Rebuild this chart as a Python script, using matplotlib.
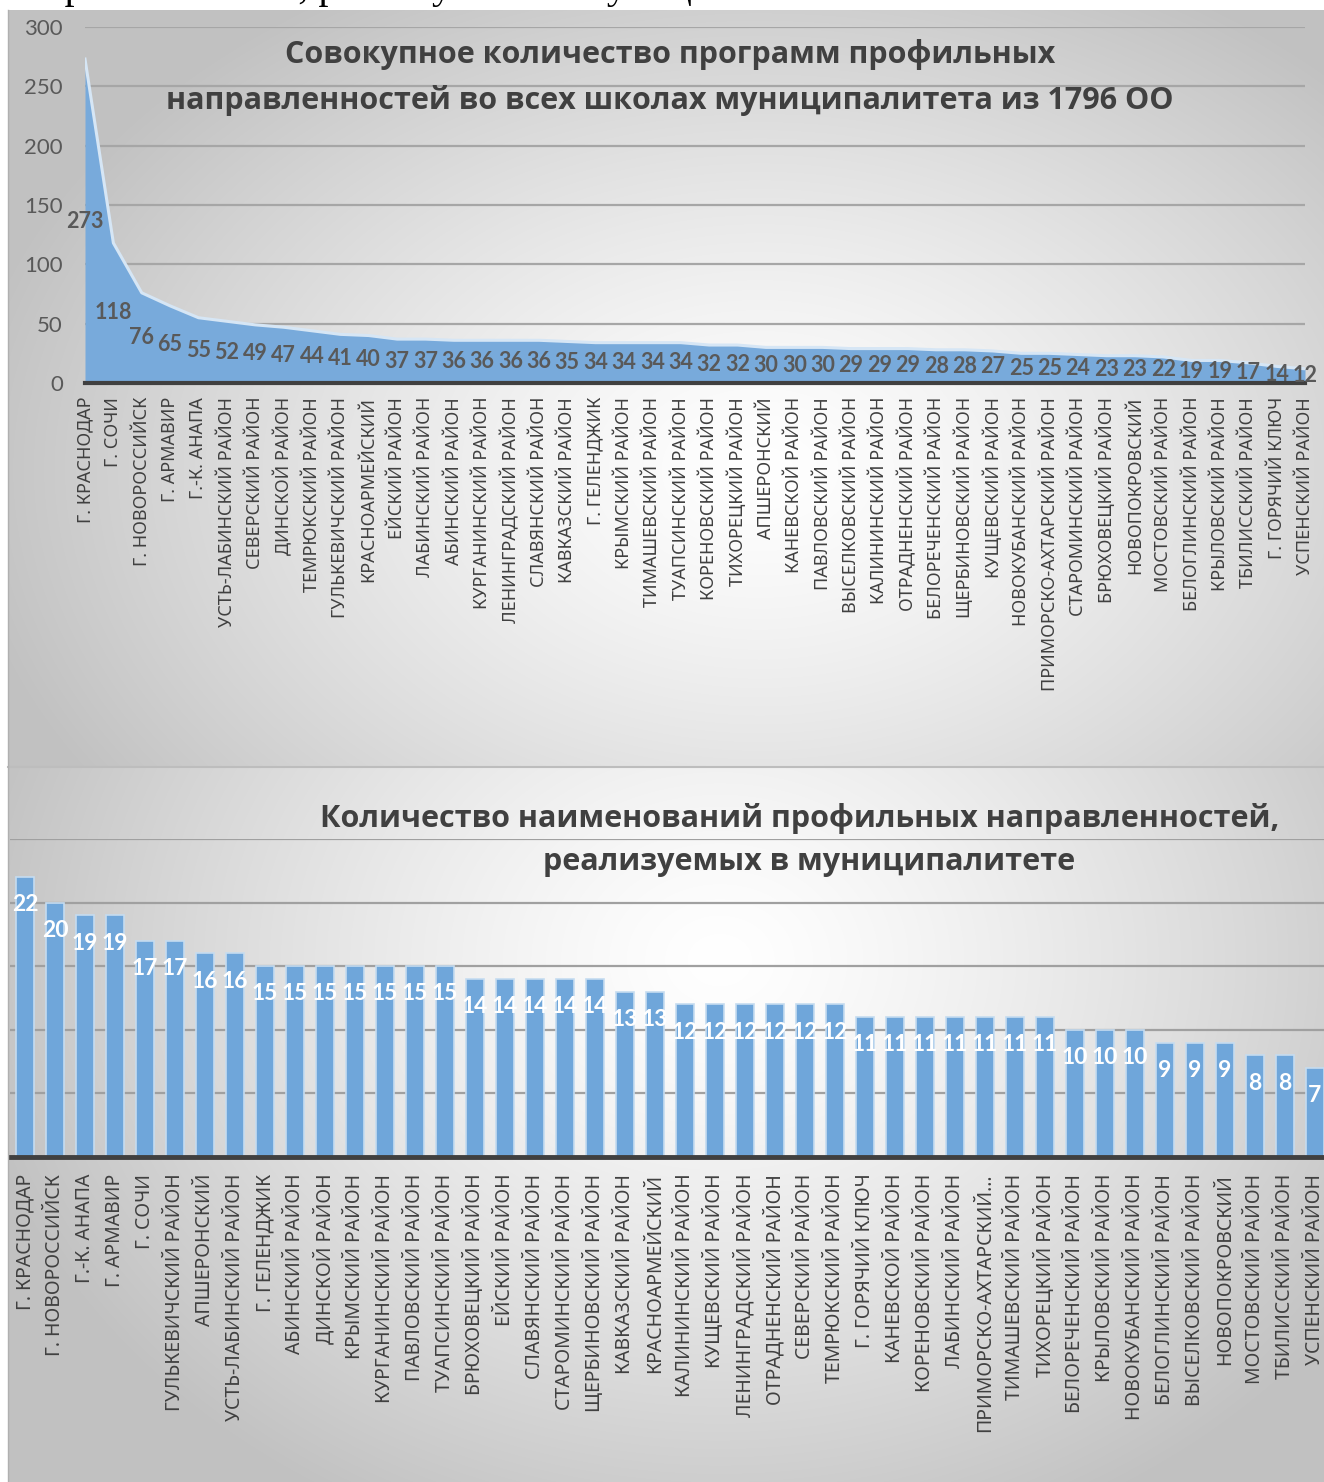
import numpy as np
import matplotlib
matplotlib.use("Agg")
import matplotlib.pyplot as plt

W, H = 1324, 1482
DPI = 100

# ---------------- data ----------------
top_title = "Совокупное количество программ профильных\nнаправленностей во всех школах муниципалитета из 1796 ОО"
top_categories = [
    "Г. КРАСНОДАР", "Г. СОЧИ", "Г. НОВОРОССИЙСК", "Г. АРМАВИР", "Г.-К. АНАПА",
    "УСТЬ-ЛАБИНСКИЙ РАЙОН", "СЕВЕРСКИЙ РАЙОН", "ДИНСКОЙ РАЙОН", "ТЕМРЮКСКИЙ РАЙОН",
    "ГУЛЬКЕВИЧСКИЙ РАЙОН", "КРАСНОАРМЕЙСКИЙ", "ЕЙСКИЙ РАЙОН", "ЛАБИНСКИЙ РАЙОН",
    "АБИНСКИЙ РАЙОН", "КУРГАНИНСКИЙ РАЙОН", "ЛЕНИНГРАДСКИЙ РАЙОН", "СЛАВЯНСКИЙ РАЙОН",
    "КАВКАЗСКИЙ РАЙОН", "Г. ГЕЛЕНДЖИК", "КРЫМСКИЙ РАЙОН", "ТИМАШЕВСКИЙ РАЙОН",
    "ТУАПСИНСКИЙ РАЙОН", "КОРЕНОВСКИЙ РАЙОН", "ТИХОРЕЦКИЙ РАЙОН", "АПШЕРОНСКИЙ",
    "КАНЕВСКОЙ РАЙОН", "ПАВЛОВСКИЙ РАЙОН", "ВЫСЕЛКОВСКИЙ РАЙОН", "КАЛИНИНСКИЙ РАЙОН",
    "ОТРАДНЕНСКИЙ РАЙОН", "БЕЛОРЕЧЕНСКИЙ РАЙОН", "ЩЕРБИНОВСКИЙ РАЙОН", "КУЩЕВСКИЙ РАЙОН",
    "НОВОКУБАНСКИЙ РАЙОН", "ПРИМОРСКО-АХТАРСКИЙ РАЙОН", "СТАРОМИНСКИЙ РАЙОН",
    "БРЮХОВЕЦКИЙ РАЙОН", "НОВОПОКРОВСКИЙ", "МОСТОВСКИЙ РАЙОН", "БЕЛОГЛИНСКИЙ РАЙОН",
    "КРЫЛОВСКИЙ РАЙОН", "ТБИЛИССКИЙ РАЙОН", "Г. ГОРЯЧИЙ КЛЮЧ", "УСПЕНСКИЙ РАЙОН",
]
top_values = [273, 118, 76, 65, 55, 52, 49, 47, 44, 41,
              40, 37, 37, 36, 36, 36, 36, 35, 34, 34,
              34, 34, 32, 32, 30, 30, 30, 29, 29, 29,
              28, 28, 27, 25, 25, 24, 23, 23, 22, 19,
              19, 17, 14, 12]
top_yticks = [0, 50, 100, 150, 200, 250, 300]

bottom_title = "Количество наименований профильных направленностей,\nреализуемых в муниципалитете"
bottom_categories = [
    "Г. КРАСНОДАР", "Г. НОВОРОССИЙСК", "Г.-К. АНАПА", "Г. АРМАВИР", "Г. СОЧИ",
    "ГУЛЬКЕВИЧСКИЙ РАЙОН", "АПШЕРОНСКИЙ", "УСТЬ-ЛАБИНСКИЙ РАЙОН", "Г. ГЕЛЕНДЖИК",
    "АБИНСКИЙ РАЙОН", "ДИНСКОЙ РАЙОН", "КРЫМСКИЙ РАЙОН", "КУРГАНИНСКИЙ РАЙОН",
    "ПАВЛОВСКИЙ РАЙОН", "ТУАПСИНСКИЙ РАЙОН", "БРЮХОВЕЦКИЙ РАЙОН", "ЕЙСКИЙ РАЙОН",
    "СЛАВЯНСКИЙ РАЙОН", "СТАРОМИНСКИЙ РАЙОН", "ЩЕРБИНОВСКИЙ РАЙОН", "КАВКАЗСКИЙ РАЙОН",
    "КРАСНОАРМЕЙСКИЙ", "КАЛИНИНСКИЙ РАЙОН", "КУЩЕВСКИЙ РАЙОН", "ЛЕНИНГРАДСКИЙ РАЙОН",
    "ОТРАДНЕНСКИЙ РАЙОН", "СЕВЕРСКИЙ РАЙОН", "ТЕМРЮКСКИЙ РАЙОН", "Г. ГОРЯЧИЙ КЛЮЧ",
    "КАНЕВСКОЙ РАЙОН", "КОРЕНОВСКИЙ РАЙОН", "ЛАБИНСКИЙ РАЙОН", "ПРИМОРСКО-АХТАРСКИЙ...",
    "ТИМАШЕВСКИЙ РАЙОН", "ТИХОРЕЦКИЙ РАЙОН", "БЕЛОРЕЧЕНСКИЙ РАЙОН", "КРЫЛОВСКИЙ РАЙОН",
    "НОВОКУБАНСКИЙ РАЙОН", "БЕЛОГЛИНСКИЙ РАЙОН", "ВЫСЕЛКОВСКИЙ РАЙОН", "НОВОПОКРОВСКИЙ",
    "МОСТОВСКИЙ РАЙОН", "ТБИЛИССКИЙ РАЙОН", "УСПЕНСКИЙ РАЙОН",
]
bottom_values = [22, 20, 19, 19, 17, 17, 16, 16, 15, 15,
                 15, 15, 15, 15, 15, 14, 14, 14, 14, 14,
                 13, 13, 12, 12, 12, 12, 12, 12, 11, 11,
                 11, 11, 11, 11, 11, 10, 10, 10, 9, 9,
                 9, 8, 8, 7]
bottom_yticks = [0, 5, 10, 15, 20, 25]

doc_text = "направленностей, реализуемых в муниципалитете."

# ---------------- helpers ----------------
def fx(px):
    return px / W

def fy(py):
    return 1 - py / H

def rect(x0, y0, x1, y1):
    return [fx(x0), fy(y1), fx(x1) - fx(x0), fy(y0) - fy(y1)]

fig = plt.figure(figsize=(W / DPI, H / DPI), dpi=DPI)
fig.patch.set_facecolor("white")

# ---------------- gradient panel backgrounds ----------------
def panel(x0, y0, x1, y1, cx, cy, rx, ry, edge=0.76):
    ax = fig.add_axes(rect(x0, y0, x1, y1))
    ax.set_axis_off()
    nx, ny = int(x1 - x0), int(y1 - y0)
    xs = np.linspace(x0, x1, nx)
    ys = np.linspace(y0, y1, ny)
    X, Y = np.meshgrid(xs, ys)
    d = np.sqrt(((X - cx) / rx) ** 2 + ((Y - cy) / ry) ** 2)
    d = np.clip(d, 0, 1)
    v = 1 - (1 - edge) * d ** 1.3
    img = np.dstack([v, v, v])
    ax.imshow(img, aspect="auto", extent=(0, 1, 0, 1), origin="upper")
    ax.set_xlim(0, 1)
    ax.set_ylim(0, 1)
    return ax

panel(8, 10, W, 766, 760, 470, 800, 560)
panel(8, 768, W, H, 720, 960, 760, 620)

# thin separator / border lines
fig.add_artist(plt.Line2D([fx(8), 1], [fy(767), fy(767)], color="#bdbdbd", lw=1.5))
fig.add_artist(plt.Line2D([fx(8), fx(8)], [fy(10), 0], color="#b0b0b0", lw=1))

# cropped document text at very top (only the descenders show, as in the page scan)
fig.text(fx(4), fy(-2), doc_text, fontsize=29, family="Liberation Serif",
         color="black", ha="left", va="baseline")

# ---------------- top chart (area) ----------------
ax1 = fig.add_axes(rect(85, 27, 1305, 383))
ax1.patch.set_alpha(0)
x1 = np.arange(len(top_values))
ax1.fill_between(x1, 0, top_values, color="#78aadb", lw=0, zorder=2)
ax1.plot(x1, top_values, color="#d6e6f5", lw=2.2, zorder=3)
ax1.set_xlim(0, len(top_values) - 1)
ax1.set_ylim(0, 300)
ax1.set_yticks(top_yticks)
ax1.set_yticklabels([str(t) for t in top_yticks])
ax1.yaxis.grid(True, color="#a6a6a6", lw=1.6, zorder=1)
ax1.set_axisbelow(True)
for s in ["top", "right", "left"]:
    ax1.spines[s].set_visible(False)
ax1.spines["bottom"].set_color("#404040")
ax1.spines["bottom"].set_linewidth(3)
ax1.spines["bottom"].set_zorder(4)
ax1.tick_params(axis="y", length=0, pad=16, labelsize=16, labelcolor="#595959")
ax1.tick_params(axis="x", length=0, pad=10, labelsize=13, labelcolor="#404040")
ax1.set_xticks(x1)
ax1.set_xticklabels(top_categories, rotation=90, ha="center", va="top",
                    family="Noto Sans")
for lab in ax1.get_yticklabels():
    lab.set_family("Lato")
for xi, v in zip(x1, top_values):
    ax1.text(xi, v / 2, str(v), ha="center", va="center", fontsize=15.5,
             fontweight="bold", color="#595959", family="Lato", zorder=5,
             clip_on=False)

fig.text(fx(670), fy(55), top_title.split("\n")[0], ha="center", va="center",
         fontsize=22, fontweight="bold", color="#404040", family="Open Sans")
fig.text(fx(670), fy(100), top_title.split("\n")[1], ha="center", va="center",
         fontsize=22, fontweight="bold", color="#404040", family="Open Sans")

# ---------------- bottom chart (bars) ----------------
ax2 = fig.add_axes(rect(10, 839, 1330, 1157))
ax2.patch.set_alpha(0)
x2 = np.arange(len(bottom_values))
ax2.bar(x2, bottom_values, width=0.62, color="#6fa6da", edgecolor="#c5dcf0",
        linewidth=1.2, zorder=2)
ax2.set_xlim(-0.5, len(bottom_values) - 0.5)
ax2.set_ylim(0, 25)
ax2.set_yticks(bottom_yticks)
ax2.set_yticklabels([])
ax2.yaxis.grid(True, color="#a0a0a0", lw=1.6, zorder=1)
ax2.set_axisbelow(True)
for s in ["top", "right", "left"]:
    ax2.spines[s].set_visible(False)
ax2.spines["bottom"].set_color("#404040")
ax2.spines["bottom"].set_linewidth(3.5)
ax2.spines["bottom"].set_zorder(4)
ax2.tick_params(axis="y", length=0)
ax2.tick_params(axis="x", length=0, pad=12, labelsize=14, labelcolor="#404040")
ax2.set_xticks(x2)
ax2.set_xticklabels(bottom_categories, rotation=90, ha="center", va="top",
                    family="Noto Sans")
for xi, v in zip(x2, bottom_values):
    ax2.annotate(str(v), (xi, v), xytext=(0, -20), textcoords="offset points",
                 ha="center", va="center", fontsize=16.5, fontweight="bold",
                 color="white", family="Lato", zorder=5)

fig.text(fx(800), fy(818), bottom_title.split("\n")[0], ha="center", va="center",
         fontsize=22, fontweight="bold", color="#404040", family="Open Sans")
fig.text(fx(809), fy(862), bottom_title.split("\n")[1], ha="center", va="center",
         fontsize=22, fontweight="bold", color="#404040", family="Open Sans")

fig.savefig("out.png", dpi=DPI)
